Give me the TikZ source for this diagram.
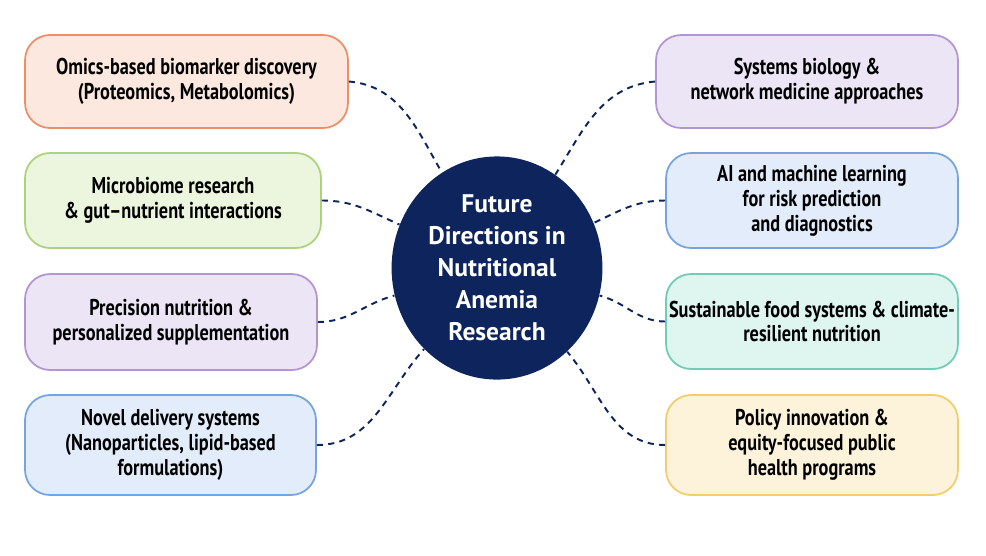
\documentclass[tikz,border=0pt]{standalone}
\usepackage{fontspec}
\setmainfont{PT Sans}[FakeStretch=0.8]
\newfontfamily\hubfont{PT Sans}
\usepackage{tikz}
\usetikzlibrary{shapes.geometric,positioning}

\definecolor{navy}{RGB}{14,36,92}
\definecolor{peachF}{RGB}{252,232,222}\definecolor{peachD}{RGB}{238,142,104}
\definecolor{greenF}{RGB}{236,245,222}\definecolor{greenD}{RGB}{172,210,124}
\definecolor{lilacF}{RGB}{236,229,246}\definecolor{lilacD}{RGB}{178,150,212}
\definecolor{blueF}{RGB}{226,236,250}\definecolor{blueD}{RGB}{118,164,224}
\definecolor{mintF}{RGB}{222,245,240}\definecolor{mintD}{RGB}{112,204,180}
\definecolor{sandF}{RGB}{253,243,218}\definecolor{sandD}{RGB}{244,204,112}

\begin{document}
\begin{tikzpicture}[x=0.02cm,y=-0.02cm]
            \useasboundingbox (0,0) rectangle (986,555);

            \tikzstyle{topic}=[rectangle,rounded corners=0.5cm,line width=1pt,align=center,
                               font=\bfseries\fontsize{13}{14.2}\selectfont,inner sep=0pt]
            \tikzstyle{link}=[navy,line width=1.1pt,dash pattern=on 3.5pt off 3pt]

            \tikzstyle{hub}=[ellipse,fill=navy,text=white,minimum width=4.06cm,minimum height=4.46cm,
                             align=center,font=\hubfont\bfseries\fontsize{14.5}{18.2}\selectfont]   % centre

            \tikzstyle{O}=[topic,fill=peachF,draw=peachD]   % omics
            \tikzstyle{G}=[topic,fill=greenF,draw=greenD]   % microbiome
            \tikzstyle{L}=[topic,fill=lilacF,draw=lilacD]   % lilac boxes
            \tikzstyle{B}=[topic,fill=blueF,draw=blueD]     % blue boxes
            \tikzstyle{T}=[topic,fill=mintF,draw=mintD]     % food systems
            \tikzstyle{Y}=[topic,fill=sandF,draw=sandD]     % policy

            \node[hub] (c) at (497,268) {Future\\Directions in\\Nutritional\\Anemia\\Research};

            \node[O,minimum width=6.46cm,minimum height=1.86cm] (1) at (186.5,81.5)
                {Omics-based biomarker discovery\\(Proteomics, Metabolomics)};
            \node[G,minimum width=5.92cm,minimum height=1.9cm] (2) at (173,200.5)
                {Microbiome research\\\& gut--nutrient interactions};
            \node[L,minimum width=5.84cm,minimum height=1.92cm] (3) at (171,322)
                {Precision nutrition \&\\personalized supplementation};
            \node[B,minimum width=5.82cm,minimum height=2cm] (4) at (170.5,445)
                {Novel delivery systems\\(Nanoparticles, lipid-based\\formulations)};

            \node[L,minimum width=6.04cm,minimum height=1.86cm] (5) at (807,81.5)
                {Systems biology \&\\network medicine approaches};
            \node[B,minimum width=5.84cm,minimum height=1.9cm] (6) at (812,200.5)
                {AI and machine learning\\for risk prediction\\and diagnostics};
            \node[T,minimum width=5.84cm,minimum height=1.9cm] (7) at (812,321.5)
                {Sustainable food systems \& climate-\\resilient nutrition};
            \node[Y,minimum width=5.84cm,minimum height=2cm] (8) at (812,445)
                {Policy innovation \&\\equity-focused public\\health programs};

            \path[link] (1.east) edge [out=-5,in=120]   (c.120);
            \path[link] (2.east) edge [out=0,in=156]    (c.156);
            \path[link] (3.east) edge [out=0,in=195]    (c.195);
            \path[link] (4.east) edge [out=0,in=228]    (c.228);
            \path[link] (5.west) edge [out=185,in=58]   (c.58);
            \path[link] (6.west) edge [out=180,in=25]   (c.25);
            \path[link] (7.west) edge [out=180,in=-15]  (c.-15);
            \path[link] (8.west) edge [out=180,in=-50]  (c.-50);
        \end{tikzpicture}
\end{document}
